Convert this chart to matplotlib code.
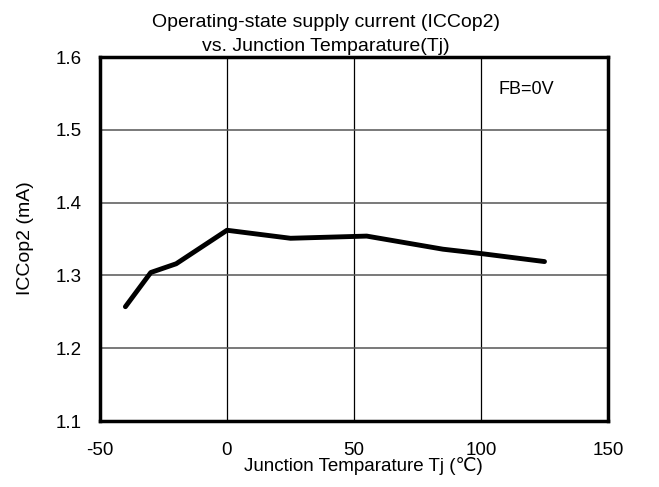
import matplotlib
matplotlib.use("Agg")
import matplotlib.pyplot as plt

plt.rcParams['font.family'] = ['Liberation Sans', 'DejaVu Sans']

temps = [-40, -30, -20, 0, 25, 55, 85, 100, 125]
icc = [1.257, 1.304, 1.316, 1.362, 1.351, 1.354, 1.336, 1.330, 1.319]

xticks = [-50, 0, 50, 100, 150]
yticks = [1.1, 1.2, 1.3, 1.4, 1.5, 1.6]

W, H = 659, 487
fig = plt.figure(figsize=(W/100, H/100), dpi=100)
ax = fig.add_axes([100/W, 1-421/H, 508/W, 364/H])

ax.plot(temps, icc, color='black', lw=3.5, solid_capstyle='round',
        solid_joinstyle='round', zorder=3)
ax.set_xlim(-50, 150)
ax.set_ylim(1.1, 1.6)
ax.set_xticks(xticks)
ax.set_yticks(yticks)
ax.set_xticklabels([str(t) for t in xticks])
ax.set_yticklabels([f"{v:.1f}" for v in yticks])
ax.grid(True, axis='x', color='black', lw=0.9)
ax.grid(True, axis='y', color='#555555', lw=1.1)
ax.tick_params(length=0, labelsize=13.5)
ax.tick_params(axis='x', pad=15)
ax.tick_params(axis='y', pad=13)
for s in ax.spines.values():
    s.set_linewidth(2.5)

ax.text(118, 1.555, 'FB=0V', ha='center', va='center', fontsize=13)
fig.text(363/W, 1-471/H, 'Junction Temparature Tj (\u2103)', ha='center',
         va='baseline', fontsize=13.5)
fig.text(26/W, 1-238/H, 'ICCop2 (mA)', ha='center', va='center',
         rotation=90, fontsize=14)
fig.text(326/W, 1-27/H, 'Operating-state supply current (ICCop2)',
         ha='center', va='baseline', fontsize=14)
fig.text(326/W, 1-51/H, 'vs. Junction Temparature(Tj)', ha='center',
         va='baseline', fontsize=14)

fig.savefig('out.png', dpi=100)
